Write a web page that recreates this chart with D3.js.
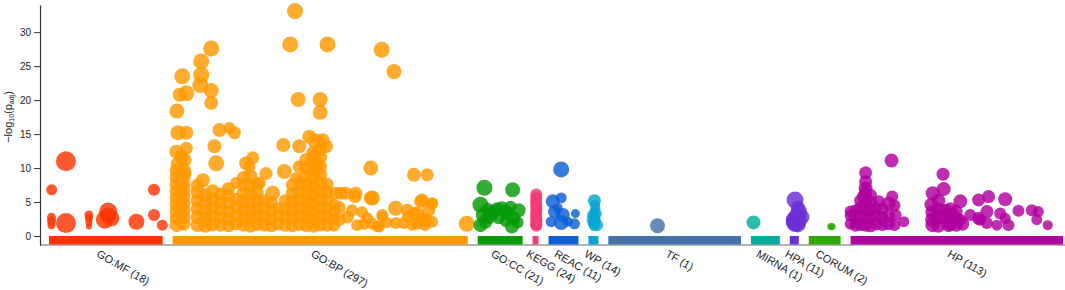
<!DOCTYPE html>
<html>
<head>
<meta charset="utf-8">
<title>g:Profiler Manhattan plot</title>
<style>
    body { margin: 0; background: #fff; }
    svg text { font-family: "Liberation Sans", Arial, sans-serif; fill: #222; }
</style>
<script src="https://cdnjs.cloudflare.com/ajax/libs/d3/7.8.5/d3.min.js"></script>
</head>
<body>
<div id="chart"></div>
<script>
// sources in plot order, term counts and relative track widths
const sources = ["GO:MF", "GO:BP", "GO:CC", "KEGG", "REAC", "WP", "TF", "MIRNA", "HPA", "CORUM", "HP"];
const sourceCounts = [18, 297, 21, 24, 11, 14, 1, 1, 11, 2, 113];
const sourceWidths = [114, 296, 45, 6, 30, 10, 133, 29, 9, 32, 213];
const sourceColors = ["#ff3300", "#ff9900", "#069a06", "#f03c78", "#0c5fd6", "#0aa6d2", "#4672a8", "#00ad9c", "#6b2fd6", "#2eaa00", "#b0009e"];
const yTicks = [0, 5, 10, 15, 20, 25, 30];

// points per source: [position inside track, -log10(padj), radius]
const goMF = [
    [2.7, 6.8, 5.5], [17, 11.0, 10], [2.5, 2.75, 4.5], [2.5, 1.6, 4], [2.5, 2.2, 4.5], [17, 1.9, 10],
    [40, 3.1, 4.5], [40, 2.6, 4], [40, 1.4, 3], [40, 2.0, 3.5], [59.3, 3.6, 9], [56, 2.4, 9],
    [62.7, 2.6, 8], [59, 3.0, 8], [87.7, 2.1, 8], [105.3, 6.8, 6], [105.3, 3.1, 6], [113.7, 1.6, 5.5]
];
const goBP = [
    // high terms
    [122.7, 33.1, 8], [118, 28.2, 8], [155.3, 28.2, 8], [209.7, 27.4, 8], [222, 24.2, 7.5],
    [38.7, 27.6, 8], [28.7, 25.7, 8], [9.7, 23.5, 8], [28.7, 23.7, 8], [27.7, 22.2, 8],
    [13.7, 21.0, 8], [7, 20.8, 7], [38.7, 21.4, 7.5], [38.7, 19.6, 7], [126, 20.1, 7.5],
    [148, 20.1, 7.5], [148, 18.2, 7.5], [4.3, 18.4, 7.5], [5.3, 15.2, 7.5], [13.7, 15.2, 7],
    [47, 15.6, 7], [57, 15.9, 6], [62, 15.2, 6.5], [3.7, 12.4, 7], [13.7, 12.9, 6.5],
    [42, 13.2, 7], [43.7, 10.7, 8], [111, 13.4, 7], [127, 13.2, 7], [137, 14.6, 7],
    [143.7, 13.9, 8], [150.3, 14.1, 7], [153.7, 13.2, 7], [142, 11.7, 7], [143.7, 10.5, 7.5],
    [80.3, 11.5, 6.5], [73.7, 10.7, 7], [127, 10.2, 6.5], [112, 9.5, 7.5], [123.7, 8.5, 6],
    [198.7, 10.0, 7.5], [242, 9.0, 7], [255.3, 9.0, 6.5], [93.7, 9.2, 6.5], [77, 10.2, 6],
    [30.3, 8.2, 7], [8.7, 11.7, 7], [12, 9.2, 7], [100.3, 6.3, 7.5], [87, 7.8, 6.5],
    [63.7, 7.8, 6], [223.7, 4.1, 7.5], [200.3, 5.6, 7.5], [183.7, 6.3, 6.5], [173.7, 6.3, 6.5],
    [163.7, 6.3, 6.5], [250.3, 5.3, 6.5], [260.3, 4.8, 6], [210.3, 2.8, 5.5], [205.3, 1.4, 5.5],
    [232, 1.9, 6], [235.3, 3.8, 6.5], [245.3, 3.3, 7], [253.7, 2.4, 7], [295, 1.8, 8],
    // left pillar
    [4, 1.6, 7], [4, 2.6, 7], [4, 3.6, 7], [4, 4.6, 7], [4, 5.6, 7], [4, 6.6, 7], [4, 7.6, 7],
    [4, 8.6, 7], [4, 9.6, 7], [5, 10.6, 7], [11, 1.8, 7], [11, 2.8, 7], [11, 3.8, 7], [11, 4.8, 7],
    [11, 5.8, 7], [11, 6.8, 7], [11, 7.8, 7], [11, 8.8, 7], [11, 9.8, 7], [12, 11.2, 7],
    // dense lower block
    [25, 1.6, 7], [25, 2.8, 7], [25, 4.0, 7], [25, 5.2, 7], [25, 6.4, 7], [25, 7.4, 7],
    [33, 1.5, 7], [33, 2.6, 7], [33, 3.7, 7], [33, 4.9, 7], [33, 6.0, 7],
    [40, 1.7, 7], [40, 2.9, 7], [40, 4.2, 7], [40, 5.3, 7], [40, 6.6, 7],
    [48, 1.6, 6.5], [48, 2.7, 6.5], [48, 3.9, 6.5], [48, 5.0, 6.5], [48, 6.2, 6.5],
    [56, 1.5, 6.5], [56, 2.5, 6.5], [56, 3.6, 6.5], [56, 4.8, 6.5], [56, 6.0, 6.5], [56, 7.0, 6.5],
    [64, 1.8, 6.5], [64, 3.0, 6.5], [64, 4.2, 6.5], [64, 5.4, 6.5],
    [71, 1.6, 6.5], [71, 2.7, 6.5], [71, 3.9, 6.5], [71, 5.1, 6.5], [71, 6.3, 6.5], [71, 7.5, 6.5], [71, 8.6, 6.5],
    [78, 1.5, 7], [78, 2.6, 7], [78, 3.8, 7], [78, 5.0, 7], [78, 6.2, 7], [78, 7.4, 7], [78, 8.8, 7],
    [85, 1.7, 6.5], [85, 2.9, 6.5], [85, 4.1, 6.5], [85, 5.3, 6.5], [85, 6.5, 6.5], [85, 7.6, 6.5],
    [92, 1.6, 6.5], [92, 2.8, 6.5], [92, 4.0, 6.5], [92, 5.2, 6.5],
    [99, 1.5, 6.5], [99, 2.6, 6.5], [99, 3.8, 6.5], [99, 5.0, 6.5],
    [106, 1.7, 6], [106, 2.9, 6], [106, 4.1, 6],
    [113, 1.6, 6.5], [113, 2.8, 6.5], [113, 4.0, 6.5], [113, 5.2, 6.5],
    [120, 1.5, 6.5], [120, 2.7, 6.5], [120, 3.9, 6.5], [120, 5.1, 6.5], [120, 6.3, 6.5], [120, 7.5, 6.5],
    [127, 1.7, 6.5], [127, 2.9, 6.5], [127, 4.1, 6.5], [127, 5.3, 6.5], [127, 6.5, 6.5], [127, 7.8, 6.5],
    [134, 1.6, 7], [134, 2.8, 7], [134, 4.0, 7], [134, 5.2, 7], [134, 6.4, 7], [134, 7.6, 7], [134, 8.8, 7], [134, 10.0, 7], [134, 11.2, 7],
    [141, 1.5, 7], [141, 2.6, 7], [141, 3.8, 7], [141, 5.0, 7], [141, 6.2, 7], [141, 7.4, 7], [141, 8.6, 7], [141, 9.8, 7], [141, 11.0, 7], [141, 12.2, 7],
    [148, 1.7, 7], [148, 2.9, 7], [148, 4.1, 7], [148, 5.3, 7], [148, 6.5, 7], [148, 7.7, 7], [148, 9.0, 7], [148, 10.2, 7], [148, 11.6, 7], [148, 12.8, 7],
    [155, 1.6, 6.5], [155, 2.8, 6.5], [155, 4.0, 6.5], [155, 5.2, 6.5], [155, 6.4, 6.5], [155, 7.6, 6.5],
    [162, 1.5, 6], [162, 2.5, 6], [162, 3.7, 6], [162, 4.6, 6],
    // right sparse part
    [169, 6.3, 6.5], [167, 4.2, 6.5], [175.3, 2.8, 6.5], [183, 5.8, 6.5], [185, 1.6, 6], [195.3, 2.6, 6],
    [198.7, 5.6, 7], [207, 1.4, 6], [210.3, 3.1, 6], [223.7, 1.9, 6], [167, 2.4, 6.5], [180, 3.8, 6],
    [190, 3.5, 6], [192, 1.8, 6], [200, 1.8, 6], [215, 2.0, 5.5], [242, 3.3, 6.5], [248.7, 5.1, 6.5],
    [250.3, 2.4, 7], [257, 3.8, 6.5], [260.3, 4.8, 6], [245.3, 1.8, 6], [260.3, 2.1, 6], [253, 1.6, 6],
    [236, 2.8, 6], [240, 1.6, 5.5]
];
const goCC = [
    [6.7, 7.1, 8], [35, 6.8, 7.5], [2.7, 4.6, 8], [6, 3.1, 8], [16, 3.6, 7], [24.3, 4.1, 7],
    [27.7, 3.6, 7], [41, 3.8, 7], [36, 2.6, 7], [34.3, 1.4, 7], [2.7, 1.6, 7], [11, 2.8, 7],
    [19.3, 4.1, 6], [31, 3.1, 6], [7.7, 2.1, 7], [14.3, 3.1, 6], [21, 2.6, 6], [28, 2.2, 6],
    [40, 2.0, 6], [10, 4.0, 6], [33, 4.3, 6]
];
const kegg = [
    [3.7, 6.1, 6], [3.7, 5.6, 6], [3.5, 5.0, 6], [3.7, 4.5, 6], [3.9, 4.0, 6], [3.7, 3.6, 6],
    [3.5, 3.1, 6], [3.7, 2.7, 6], [3.9, 2.3, 6], [3.7, 2.0, 6], [3.6, 1.7, 6], [3.8, 1.5, 6],
    [3.7, 5.3, 5.5], [3.7, 4.8, 5.5], [3.7, 4.2, 5.5], [3.7, 3.3, 5.5], [3.7, 2.5, 5.5], [3.7, 1.8, 5.5],
    [3.7, 5.8, 5], [3.7, 3.8, 5], [3.7, 2.9, 5], [3.7, 2.1, 5], [3.7, 1.6, 5], [3.7, 4.6, 5]
];
const reac = [
    [12.7, 9.8, 8], [4.3, 5.1, 7], [12.7, 5.6, 5.5], [6, 3.6, 6.5], [14.3, 3.1, 7], [27, 3.3, 4.5],
    [2.7, 2.1, 5.5], [12.7, 2.0, 7.5], [26, 1.8, 5.5], [19.3, 2.1, 5], [9.3, 4.1, 5]
];
const wp = [
    [6, 5.2, 6.5], [8, 3.3, 5.5], [4.7, 2.4, 6.5], [8.7, 1.6, 6], [3.7, 3.1, 5], [5, 2.0, 5],
    [7, 4.1, 5], [6, 1.5, 5.5], [5, 2.8, 5], [6, 3.6, 5], [7.5, 2.2, 5], [4.5, 1.8, 5],
    [6.5, 4.6, 5], [7, 2.6, 5]
];
const tf = [[49.3, 1.5, 7.5]];
const mirna = [[2.6, 2.0, 7]];
const hpa = [
    [5.3, 5.3, 8.5], [9.3, 3.6, 8], [6, 2.1, 9.5], [12.7, 2.8, 7], [4, 2.4, 8], [7, 3.0, 8],
    [5, 1.8, 8], [8, 4.2, 7], [10, 2.2, 7], [3, 2.0, 7], [8, 1.7, 8]
];
const corum = [[22, 1.4, 3.5], [23.5, 1.4, 3.5]];
const hp = [
    [41, 11.1, 7], [15, 9.3, 6.5], [15, 8.0, 6.5], [15, 7.0, 7], [13.3, 5.8, 7], [41.7, 5.8, 6],
    [38.3, 4.8, 7], [28.3, 5.1, 6], [0, 3.6, 6], [53.3, 2.1, 5.5], [45, 3.1, 6],
    [92.7, 9.1, 6.5], [93.3, 6.9, 7], [82.3, 6.3, 7], [81, 4.6, 7], [110, 5.1, 7], [95, 3.8, 6.5],
    [101.7, 3.1, 7], [81.7, 2.4, 7], [98.3, 1.6, 7], [110, 2.4, 6], [128.3, 5.3, 6.5],
    [138.3, 5.8, 6.5], [155, 5.4, 7], [136.7, 3.6, 6.5], [150, 3.3, 6], [128.3, 2.6, 6.5],
    [120, 3.1, 6], [146.7, 1.6, 5.5], [158.3, 1.6, 6], [155, 2.6, 5.5], [168.3, 3.7, 6],
    [181.7, 3.8, 6], [188.3, 3.6, 5.5], [186.7, 2.4, 5.5], [197.7, 1.6, 5], [136.7, 1.9, 6],
    [130, 2.4, 6],
    [0, 1.8, 6], [0, 3.0, 6], [5, 1.5, 6], [5, 2.6, 6], [5, 3.8, 6],
    [10, 1.7, 6.5], [10, 2.9, 6.5], [10, 4.1, 6.5], [10, 5.2, 6.5],
    [15, 1.6, 6.5], [15, 2.8, 6.5], [15, 4.0, 6.5], [15, 5.2, 6.5], [15, 6.4, 6.5],
    [20, 1.5, 6.5], [20, 2.7, 6.5], [20, 3.9, 6.5], [20, 5.0, 6.5], [20, 6.0, 6.5],
    [26, 1.7, 6], [26, 2.9, 6], [26, 4.1, 6], [32, 1.6, 6], [32, 2.8, 6], [32, 4.0, 6],
    [38, 1.8, 6.5], [38, 3.0, 6.5], [44, 1.6, 6], [44, 4.5, 6],
    [82, 1.6, 7], [82, 3.5, 7], [88, 1.5, 7], [88, 2.7, 7], [88, 3.9, 7], [88, 5.2, 7],
    [93, 2.8, 7], [100, 1.7, 6.5], [100, 2.9, 6.5], [100, 4.0, 6.5], [106, 1.6, 6.5],
    [106, 2.6, 6.5], [106, 3.6, 6.5], [112, 1.8, 7]
];
const sourcePoints = [goMF, goBP, goCC, kegg, reac, wp, tf, mirna, hpa, corum, hp];

const width = 1065, height = 290;
const gap = 10;
const baseY = 236, barH = 8.5, axisX = 40;

const svg = d3.select("#chart").append("svg")
    .attr("width", width)
    .attr("height", height);

// track start positions in domain units
const starts = [];
let acc = 0;
sourceWidths.forEach((w, i) => { starts.push(acc); acc += w + (i < sourceWidths.length - 1 ? gap : 0); });

const xScale = d3.scaleLinear().domain([0, acc]).range([49, 1063]);
const yScale = d3.scaleLinear().domain([0, 34]).range([baseY, 5]);
const axisScale = yScale.copy().domain([yScale.invert(baseY + barH + 0.5), 34]).range([baseY + barH + 0.5, 5]);

// baseline
svg.append("line")
    .attr("x1", axisX).attr("x2", width)
    .attr("y1", baseY + barH + 0.5).attr("y2", baseY + barH + 0.5)
    .attr("stroke", "#9a9a9a").attr("stroke-width", 1.5);

// y axis
const yAxis = d3.axisLeft(axisScale).tickValues(yTicks).tickSize(6).tickSizeOuter(0);
const gy = svg.append("g")
    .attr("transform", "translate(" + axisX + ",0)")
    .call(yAxis);
gy.select(".domain").attr("stroke", "#333").attr("stroke-width", 1.2);
gy.selectAll(".tick line").attr("stroke", "#333");
gy.selectAll(".tick text").attr("font-size", 10).attr("fill", "#222")
    .style("font-family", "'Liberation Sans', Arial, sans-serif");

const ylab = svg.append("text")
    .attr("transform", "translate(12,117) rotate(-90)")
    .attr("text-anchor", "middle")
    .attr("font-size", 11);
ylab.append("tspan").text("\u2212log");
ylab.append("tspan").text("10").attr("font-size", 7).attr("dy", 2);
ylab.append("tspan").text("(p").attr("dy", -2);
ylab.append("tspan").text("adj").attr("font-size", 7).attr("dy", 2);
ylab.append("tspan").text(")").attr("dy", -2);

// source bars
svg.selectAll("rect.src")
    .data(sources)
    .enter()
    .append("rect")
    .attr("class", "src")
    .attr("x", (d, i) => xScale(starts[i]))
    .attr("y", baseY)
    .attr("width", (d, i) => xScale(starts[i] + sourceWidths[i]) - xScale(starts[i]))
    .attr("height", barH)
    .attr("fill", (d, i) => sourceColors[i]);

// points
sourcePoints.forEach((pts, i) => {
    svg.append("g")
        .selectAll("circle")
        .data(pts)
        .enter()
        .append("circle")
        .attr("cx", d => xScale(starts[i] + d[0]))
        .attr("cy", d => yScale(d[1]))
        .attr("r", d => d[2])
        .attr("fill", sourceColors[i])
        .attr("fill-opacity", 0.82);
});

// source labels
svg.selectAll("text.src")
    .data(sources)
    .enter()
    .append("text")
    .attr("class", "src")
    .attr("font-size", 11)
    .attr("transform", (d, i) => {
        const cx = xScale(starts[i] + sourceWidths[i] / 2);
        return "translate(" + (cx - 10) + "," + (baseY + 20) + ") rotate(30)";
    })
    .text((d, i) => d + " (" + sourceCounts[i] + ")");
</script>
</body>
</html>
